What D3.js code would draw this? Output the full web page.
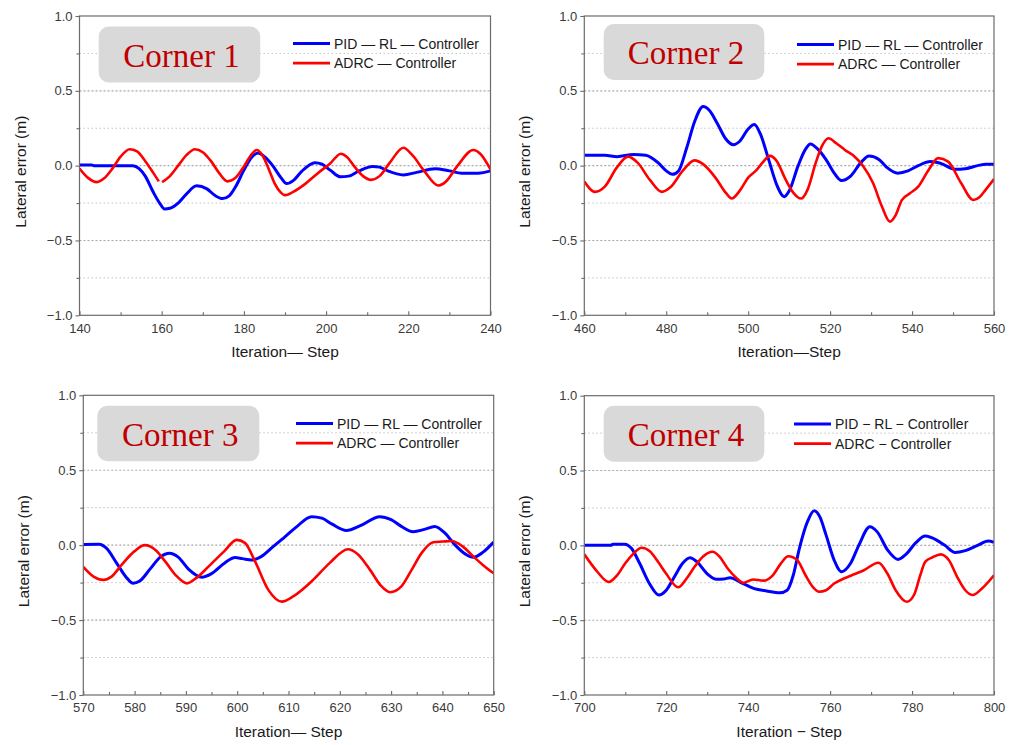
<!DOCTYPE html>
<html>
<head>
<meta charset="utf-8">
<script src="https://cdn.jsdelivr.net/npm/d3@7"></script>
<style>
  html, body { margin: 0; padding: 0; background: #fff; }
  svg { display: block; }
</style>
</head>
<body>
<svg id="chart" width="1017" height="745"></svg>
<script>
// ---- Data: lateral error (m) per iteration step, four corners ----
const corner1Pid = [[140,0.005],[143,0.005],[143.5,0],[153,0],[154.5,-0.02],[156,-0.07],[158,-0.18],[159.5,-0.25],[160.7,-0.29],[162,-0.285],[164,-0.25],[166,-0.19],[168.5,-0.135],[171,-0.155],[173,-0.2],[174.8,-0.22],[176.5,-0.2],[178,-0.14],[180,-0.03],[182,0.06],[183.5,0.085],[185,0.06],[187,0.0],[189,-0.08],[190.4,-0.12],[192,-0.1],[194,-0.04],[197.3,0.02],[199,0.01],[201,-0.03],[203.5,-0.075],[205.5,-0.07],[208,-0.035],[211.3,-0.005],[213,-0.01],[215,-0.035],[218.8,-0.062],[222,-0.045],[226.5,-0.02],[230,-0.035],[233,-0.05],[237,-0.05],[240,-0.035]];
const corner1Adrc = [[140,-0.02],[142,-0.08],[144.2,-0.11],[146,-0.085],[148,-0.02],[150,0.06],[152.2,0.11],[154,0.095],[156,0.03],[158,-0.05],[159.3,-0.105],[159.7,null],[160.1,-0.11],[162,-0.07],[164,0.0],[166,0.07],[168.1,0.11],[170,0.09],[172,0.03],[174,-0.05],[176,-0.105],[178,-0.08],[180,-0.005],[182,0.08],[183.1,0.105],[184.5,0.07],[186,-0.02],[187.5,-0.12],[189,-0.18],[190,-0.197],[192,-0.175],[195,-0.12],[198,-0.05],[201,0.015],[203.6,0.08],[205,0.06],[207,-0.01],[209,-0.07],[210.9,-0.095],[213,-0.07],[215.5,0.02],[218.8,0.12],[221,0.07],[224,-0.04],[227.3,-0.133],[229,-0.11],[232,0.0],[235.8,0.105],[237.5,0.08],[240,-0.025]];

const corner2Pid = [[460,0.07],[465,0.07],[468,0.06],[472,0.075],[475,0.07],[478,0.02],[480,-0.035],[481.5,-0.058],[483,-0.035],[485,0.12],[487,0.3],[489,0.395],[490.5,0.37],[492.5,0.28],[494.5,0.18],[496.4,0.14],[498,0.165],[500,0.245],[501.5,0.275],[503,0.21],[505,0.04],[507,-0.13],[508.8,-0.207],[510,-0.17],[512.2,0.0],[514,0.11],[515.2,0.145],[517,0.11],[519,0.04],[521,-0.05],[522.8,-0.1],[525,-0.07],[527.5,0.02],[529.5,0.065],[532,0.04],[534,-0.015],[536.5,-0.05],[539,-0.035],[541.5,0.0],[544.5,0.028],[547,0.015],[550.5,-0.024],[553,-0.02],[556,0.0],[558,0.01],[560,0.01]];
const corner2Adrc = [[460,-0.105],[462.6,-0.175],[465,-0.14],[468,-0.01],[470.7,0.06],[473,0.02],[476,-0.095],[478.9,-0.175],[481,-0.145],[484,-0.035],[486.9,0.035],[489,0.01],[492,-0.08],[494.5,-0.18],[496,-0.22],[498,-0.165],[500,-0.08],[502,-0.03],[503.5,0.02],[505.3,0.065],[507,0.03],[509,-0.085],[511,-0.18],[512.9,-0.22],[514.5,-0.16],[516.5,0.02],[518,0.13],[519.6,0.183],[521.5,0.15],[523.6,0.105],[526,0.06],[528,0.0],[530.5,-0.118],[532.6,-0.27],[534.6,-0.374],[536,-0.33],[537.5,-0.23],[539.5,-0.185],[541.5,-0.14],[544,-0.03],[546.4,0.05],[548.8,0.027],[552,-0.118],[555,-0.23],[556.5,-0.21],[558,-0.16],[560,-0.09]];

const corner3Pid = [[570,0.005],[573.1,0.006],[574.5,-0.02],[576.5,-0.12],[578.5,-0.22],[579.7,-0.255],[581,-0.24],[583,-0.16],[585,-0.08],[586.8,-0.054],[588.5,-0.08],[590.5,-0.16],[593.1,-0.214],[595,-0.19],[597.5,-0.12],[599.6,-0.083],[601,-0.09],[602.8,-0.099],[604.5,-0.08],[607,-0.01],[609.3,0.055],[611.5,0.12],[614.5,0.19],[616.5,0.18],[618.5,0.14],[621.3,0.098],[624,0.13],[627.8,0.19],[630,0.17],[632,0.125],[634.3,0.09],[636.5,0.105],[638.5,0.124],[640.5,0.08],[642.5,0.0],[644.5,-0.06],[646,-0.081],[648,-0.045],[650,0.02]];
const corner3Adrc = [[570,-0.145],[572,-0.21],[573.9,-0.232],[575.5,-0.21],[577.5,-0.13],[580,-0.04],[582,0.0],[584,-0.03],[586,-0.11],[588,-0.2],[590.2,-0.255],[592,-0.22],[594.5,-0.14],[597.5,-0.04],[599.9,0.035],[601.5,0.015],[603.5,-0.11],[606.1,-0.3],[608.7,-0.377],[611,-0.34],[614.8,-0.232],[618,-0.12],[621.6,-0.027],[623.5,-0.06],[626,-0.17],[628,-0.27],[629.8,-0.314],[632,-0.275],[634,-0.165],[636,-0.05],[638.2,0.019],[640,0.024],[641.8,0.028],[644,-0.01],[646,-0.075],[648,-0.135],[650,-0.188]];

const corner4Pid = [[700,0],[706.5,0],[707,0.008],[709.9,0.008],[711.5,-0.02],[713.5,-0.12],[716,-0.26],[718.2,-0.332],[720,-0.3],[722,-0.21],[724,-0.12],[725.8,-0.083],[727.5,-0.11],[730,-0.19],[732.3,-0.227],[734,-0.225],[735.6,-0.216],[738,-0.245],[741.3,-0.287],[744.5,-0.305],[747.8,-0.317],[749.5,-0.3],[751,-0.2],[752.5,-0.02],[754.5,0.16],[756.1,0.231],[757.5,0.19],[759,0.07],[761,-0.1],[762.8,-0.176],[765,-0.12],[767,0.0],[769.7,0.124],[771.5,0.09],[774,-0.03],[776.6,-0.094],[778.5,-0.06],[781,0.02],[783.2,0.062],[786,0.035],[788,0.0],[790.5,-0.047],[793,-0.035],[796,0.0],[798.6,0.029],[800,0.02]];
const corner4Adrc = [[700,-0.06],[703,-0.17],[706,-0.245],[708,-0.2],[710,-0.12],[712,-0.055],[714,-0.016],[716,-0.04],[718,-0.11],[720,-0.19],[722.9,-0.28],[725,-0.22],[727,-0.14],[729,-0.075],[731.3,-0.043],[733,-0.075],[735,-0.155],[737,-0.215],[738.8,-0.25],[741.2,-0.228],[743.7,-0.236],[746,-0.2],[748,-0.12],[749.8,-0.073],[752,-0.1],[754,-0.2],[756,-0.285],[757.3,-0.31],[759,-0.3],[761,-0.255],[763.5,-0.22],[765.3,-0.2],[768,-0.17],[771.8,-0.116],[774,-0.19],[776,-0.3],[778.7,-0.377],[780.5,-0.33],[782,-0.2],[783.2,-0.11],[785,-0.08],[787,-0.06],[789,-0.1],[791,-0.21],[793,-0.3],[794.8,-0.332],[797,-0.29],[800,-0.2]];

// axis ranges and tick labels
const xDomains = [[140,240],[460,560],[570,650],[700,800]];
const xMajorTicks = [
  [140,160,180,200,220,240],
  [460,480,500,520,540,560],
  [570,580,590,600,610,620,630,640,650],
  [700,720,740,760,780,800]
];
const xMinorTicks = [
  [150,170,190,210,230],
  [470,490,510,530,550],
  [575,585,595,605,615,625,635,645],
  [710,730,750,770,790]
];
const yMajorTicks = [-1.0,-0.5,0.0,0.5,1.0];
const yMinorTicks = [-0.75,-0.25,0.25,0.75];

const cornerTitles = ["Corner 1","Corner 2","Corner 3","Corner 4"];
const pidLabels  = ["PID — RL — Controller","PID — RL — Controller","PID — RL — Controller","PID − RL − Controller"];
const adrcLabels = ["ADRC — Controller","ADRC — Controller","ADRC — Controller","ADRC − Controller"];
const xTitles = ["Iteration— Step","Iteration—Step","Iteration— Step","Iteration − Step"];
const yTitle = "Lateral error (m)";

const pidSeries  = [corner1Pid, corner2Pid, corner3Pid, corner4Pid];
const adrcSeries = [corner1Adrc, corner2Adrc, corner3Adrc, corner4Adrc];

// ---- Layout of the four plot frames ----
const frames = [
  {l: 79.5,  r: 490.5, t: 16,    b: 315.3, box: [98.7, 26.5, 161.5, 56], leg: [293, 43.5]},
  {l: 584.3, r: 994,   t: 16,    b: 315.3, box: [603.7, 24, 160.6, 56], leg: [797, 44.5]},
  {l: 83.3,  r: 493.7, t: 395.3, b: 695,   box: [97.3, 405.7, 162, 55.6], leg: [296, 423.5]},
  {l: 584.3, r: 994,   t: 395.7, b: 695,   box: [603.7, 405.7, 160.6, 56], leg: [794, 424]}
];

const BLUE = "#0000ff", RED = "#ff0000";
const svg = d3.select("#chart");
const sans = "Arial, 'Liberation Sans', sans-serif";

frames.forEach((f, i) => {
  const x = d3.scaleLinear().domain(xDomains[i]).range([f.l, f.r]);
  const y = d3.scaleLinear().domain([-1, 1]).range([f.b, f.t]);
  const g = svg.append("g");

  // dotted grid
  g.selectAll(".gmin").data(yMinorTicks).join("line")
    .attr("x1", f.l).attr("x2", f.r).attr("y1", d => y(d)).attr("y2", d => y(d))
    .attr("stroke", "#c4c4c4").attr("stroke-width", 1).attr("stroke-dasharray", "1.5,2.5");
  g.selectAll(".gmaj").data(yMajorTicks.filter(v => v > -1 && v < 1)).join("line")
    .attr("x1", f.l).attr("x2", f.r).attr("y1", d => y(d)).attr("y2", d => y(d))
    .attr("stroke", "#a8a8a8").attr("stroke-width", 1.1).attr("stroke-dasharray", "2,2");

  // curves
  const line = d3.line()
    .defined(d => d[1] != null)
    .x(d => x(d[0])).y(d => y(d[1]))
    .curve(d3.curveMonotoneX);
  const clipId = "clip" + i;
  svg.append("clipPath").attr("id", clipId).append("rect")
    .attr("x", f.l).attr("y", f.t).attr("width", f.r - f.l).attr("height", f.b - f.t);
  const curves = g.append("g").attr("clip-path", `url(#${clipId})`);
  curves.append("path").datum(pidSeries[i]).attr("d", line)
    .attr("fill", "none").attr("stroke", BLUE).attr("stroke-width", 3).attr("stroke-linejoin", "round");
  curves.append("path").datum(adrcSeries[i]).attr("d", line)
    .attr("fill", "none").attr("stroke", RED).attr("stroke-width", 2.6).attr("stroke-linejoin", "round");

  // frame
  g.append("rect").attr("x", f.l).attr("y", f.t).attr("width", f.r - f.l).attr("height", f.b - f.t)
    .attr("fill", "none").attr("stroke", "#6b6b6b").attr("stroke-width", 1.2);

  // y axis (ticks outward)
  const yAxis = d3.axisLeft(y).tickValues(yMajorTicks).tickFormat(d3.format(".1f")).tickSize(4).tickPadding(3);
  const ya = g.append("g").attr("transform", `translate(${f.l},0)`).call(yAxis);
  g.append("g").attr("transform", `translate(${f.l},0)`)
    .call(d3.axisLeft(y).tickValues(yMinorTicks).tickFormat("").tickSize(3));

  // x axis (ticks inward)
  const xAxis = d3.axisBottom(x).tickValues(xMajorTicks[i]).tickFormat(d3.format("d")).tickSize(-4).tickPadding(8);
  const xa = g.append("g").attr("transform", `translate(0,${f.b})`).call(xAxis);
  g.append("g").attr("transform", `translate(0,${f.b})`)
    .call(d3.axisBottom(x).tickValues(xMinorTicks[i]).tickFormat("").tickSize(-3));

  g.selectAll(".domain").remove();
  g.selectAll(".tick line").attr("stroke", "#6b6b6b").attr("stroke-width", 1.1);
  g.selectAll(".tick text").attr("fill", "#3a3a3a").style("font-family", sans).style("font-size", "13px");

  // axis titles
  g.append("text")
    .attr("transform", `translate(${f.l - 54},${(f.t + f.b) / 2 + 6}) rotate(-90)`)
    .attr("text-anchor", "middle").attr("fill", "#1a1a1a")
    .style("font-family", sans).style("font-size", "15.5px").text(yTitle);
  g.append("text")
    .attr("x", (f.l + f.r) / 2).attr("y", f.b + 42)
    .attr("text-anchor", "middle").attr("fill", "#1a1a1a")
    .style("font-family", sans).style("font-size", "15.5px").text(xTitles[i]);

  // corner label badge
  const [bx, by, bw, bh] = f.box;
  g.append("rect").attr("x", bx).attr("y", by).attr("width", bw).attr("height", bh)
    .attr("rx", 10).attr("ry", 10).attr("fill", "#d9d9d9");
  g.append("text").attr("x", bx + bw / 2 + 2).attr("y", by + 40)
    .attr("text-anchor", "middle").attr("fill", "#c00000")
    .style("font-family", "'Times New Roman', 'Liberation Serif', serif").style("font-size", "33px")
    .text(cornerTitles[i]);

  // legend
  const [lx, ly] = f.leg;
  [[BLUE, pidLabels[i], 3], [RED, adrcLabels[i], 2.8]].forEach(([c, label, w], k) => {
    const yy = ly + k * 19.7;
    g.append("line").attr("x1", lx).attr("x2", lx + 37).attr("y1", yy).attr("y2", yy)
      .attr("stroke", c).attr("stroke-width", w);
    g.append("text").attr("x", lx + 41).attr("y", yy + 5)
      .attr("fill", "#1a1a1a").style("font-family", sans).style("font-size", "14px").text(label);
  });
});
</script>
</body>
</html>
